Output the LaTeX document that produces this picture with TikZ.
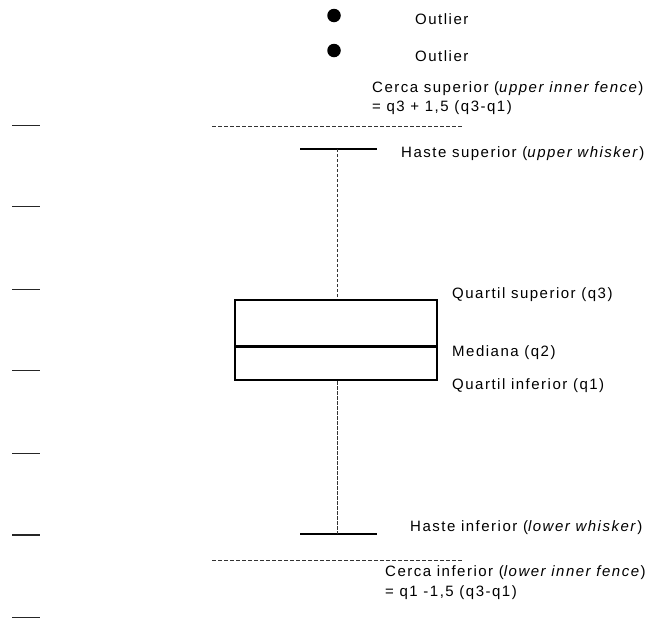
\documentclass[tikz,border=0pt]{standalone}
\usepackage{fontspec}
\setmainfont{Liberation Sans}[LetterSpace=10]
\begin{document}
\begin{tikzpicture}[x=1pt,y=-1pt,
  lbl/.style={anchor=west,inner sep=0pt,font=\fontsize{15}{18}\selectfont},
  tickline/.style={line width=1.5pt,black!85},
  fence/.style={line width=1pt,dash pattern=on 4pt off 2pt,black!80},
  whisk/.style={line width=1.9pt,dash pattern=on 3.3pt off 1.7pt,black!80},
  capline/.style={line width=1.6pt},
  boxline/.style={line width=2.7pt},
  dot/.style={circle,fill=black,minimum size=13.5pt,inner sep=0pt}]
\useasboundingbox (0,0) rectangle (655,619);
% axis ticks
\foreach \y in {125.7,206.7,289.3,370.7,453.3,535,617.7}
  \draw[tickline] (12,\y) -- (40,\y);
% outliers
\node[dot] (o1) at (334,15.5) {};
\node[dot] (o2) at (334,50.5) {};
\node[lbl] (to1) at (415,19) {Outlier};
\node[lbl] (to2) at (415,56) {Outlier};
% fences
\coordinate (fuL) at (212,126.7);
\coordinate (fuR) at (462,126.7);
\draw[fence] (fuL) -- (fuR);
\coordinate (flL) at (212,560);
\coordinate (flR) at (462,560);
\draw[fence] (flL) -- (flR);
% box
\node[draw,boxline,minimum width=202pt,minimum height=80pt,inner sep=0pt] (box) at (336,340) {};
\coordinate (medL) at (235,346.7);
\coordinate (medR) at (437,346.7);
\draw[boxline] (medL) -- (medR);
% whiskers
\coordinate (cuL) at (300,149);
\coordinate (cuR) at (377,149);
\coordinate (cu) at (337.5,149);
\draw[capline] (cuL) -- (cuR);
\draw[whisk] (cu) -- (cu |- box.north);
\coordinate (clL) at (300,534);
\coordinate (clR) at (377,534);
\coordinate (cl) at (337.5,534);
\draw[capline] (clL) -- (clR);
\draw[whisk] (cl |- box.south) -- (cl);
% labels
\node[lbl] (cs1) at (372,89) {Cerca superior (\textit{upper inner fence})};
\node[lbl] (cs2) at (372,108) {= q3 + 1,5 (q3-q1)};
\node[lbl] (hs) at (401,154) {Haste superior (\textit{upper whisker})};
\node[lbl] (qs) at (452,295) {Quartil superior (q3)};
\node[lbl] (md) at (452,353) {Mediana (q2)};
\node[lbl] (qi) at (452,386) {Quartil inferior (q1)};
\node[lbl] (hi) at (410,528) {Haste inferior (\textit{lower whisker})};
\node[lbl] (ci1) at (385,573) {Cerca inferior (\textit{lower inner fence})};
\node[lbl] (ci2) at (385,593) {= q1 -1,5 (q3-q1)};
\end{tikzpicture}
\end{document}
